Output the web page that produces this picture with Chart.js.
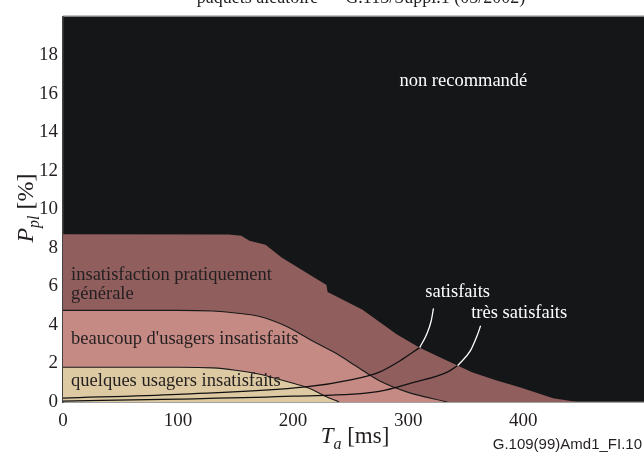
<!DOCTYPE html>
<html>
<head>
<meta charset="utf-8">
<script src="https://cdn.jsdelivr.net/npm/chart.js@4.4.0/dist/chart.umd.min.js"></script>
<style>
  html, body { margin: 0; padding: 0; background: #fff; }
  canvas { display: block; }
</style>
</head>
<body>
<canvas id="ppl-chart" width="644" height="457"></canvas>
<script>
// axes
var xMax = 505;
var yMax = 20;
var xTickValues = [0, 100, 200, 300, 400];
var yTickValues = [0, 2, 4, 6, 8, 10, 12, 14, 16, 18];

// zone boundaries, Ta [ms] -> Ppl [%]
var nonRecMs  = [0, 144, 155, 162, 176, 190, 229, 230, 260, 290, 310, 334, 356, 377, 397, 426, 447];
var nonRecPpl = [8.7, 8.69, 8.62, 8.37, 8.16, 7.5, 6.07, 5.71, 4.8, 3.52, 2.81, 2.14, 1.53, 1.12, 0.77, 0.2, 0];

var beaucoupMs  = [0, 100, 130, 150, 170, 194, 217, 238, 255, 275, 300, 334];
var beaucoupPpl = [4.75, 4.75, 4.72, 4.62, 4.45, 3.93, 3.16, 2.5, 1.85, 1.1, 0.5, 0];

var quelquesMs  = [0, 100, 130, 150, 170, 185, 200, 214, 228, 240];
var quelquesPpl = [1.8, 1.8, 1.77, 1.65, 1.45, 1.22, 0.97, 0.71, 0.3, 0];

// iso-satisfaction curves (black under the zones, white above)
var satisMs  = [0, 100, 211, 250, 275, 293, 310];
var satisPpl = [0.2, 0.4, 0.78, 1.15, 1.55, 2.14, 2.82];
var satisTopMs  = [310, 316, 320, 322];
var satisTopPpl = [2.82, 3.5, 4.2, 4.86];

var tresMs  = [0, 100, 200, 275, 304, 334, 343];
var tresPpl = [0.05, 0.15, 0.3, 0.55, 1.0, 1.55, 1.89];
var tresTopMs  = [343, 354, 360, 363];
var tresTopPpl = [1.89, 2.65, 3.45, 3.95];

var serif = "'Liberation Serif', 'Times New Roman', serif";

function toPoints(xs, ys) {
	return xs.map(function (x, i) { return { x: x, y: ys[i] }; });
}

// text drawn in data coordinates
var zoneLabels = [
	{ text: 'insatisfaction pratiquement', x: 7, y: 6.33, color: '#231f20', align: 'left' },
	{ text: 'générale', x: 7, y: 5.36, color: '#231f20', align: 'left' },
	{ text: "beaucoup d'usagers insatisfaits", x: 7, y: 3.03, color: '#231f20', align: 'left' },
	{ text: 'quelques usagers insatisfaits', x: 7, y: 0.82, color: '#231f20', align: 'left' },
	{ text: 'non recommandé', x: 348, y: 16.4, color: '#ffffff', align: 'center' },
	{ text: 'satisfaits', x: 343, y: 5.46, color: '#ffffff', align: 'center' },
	{ text: 'très satisfaits', x: 396.5, y: 4.34, color: '#ffffff', align: 'center' }
];

function drawSubscripted(ctx, main, sub, rest, x, y, size) {
	var subSize = Math.round(size * 0.68);
	ctx.font = 'italic ' + size + 'px ' + serif;
	var w1 = ctx.measureText(main).width;
	ctx.font = 'italic ' + subSize + 'px ' + serif;
	var w2 = ctx.measureText(sub).width;
	ctx.font = size + 'px ' + serif;
	var w3 = ctx.measureText(rest).width;
	var start = x - (w1 + w2 + w3) / 2;
	ctx.textAlign = 'left';
	ctx.textBaseline = 'alphabetic';
	ctx.font = 'italic ' + size + 'px ' + serif;
	ctx.fillText(main, start, y);
	ctx.font = 'italic ' + subSize + 'px ' + serif;
	ctx.fillText(sub, start + w1, y + size * 0.25);
	ctx.font = size + 'px ' + serif;
	ctx.fillText(rest, start + w1 + w2, y);
}

var decor = {
	id: 'decor',
	beforeDraw: function (chart) {
		var ctx = chart.ctx, a = chart.chartArea;
		ctx.save();
		ctx.fillStyle = '#151618';
		ctx.fillRect(a.left, a.top, a.right - a.left, a.bottom - a.top);
		ctx.fillStyle = '#9a9a9a';
		ctx.fillRect(a.left, a.top - 1, a.right - a.left, 1);
		ctx.restore();
	},
	afterDraw: function (chart) {
		var ctx = chart.ctx;
		var xs = chart.scales.x, ys = chart.scales.y;
		ctx.save();

		ctx.font = '18.5px ' + serif;
		ctx.textBaseline = 'alphabetic';
		zoneLabels.forEach(function (l) {
			ctx.fillStyle = l.color;
			ctx.textAlign = l.align;
			ctx.fillText(l.text, xs.getPixelForValue(l.x), ys.getPixelForValue(l.y));
		});

		// title cut off at the top of the figure
		ctx.fillStyle = '#231f20';
		ctx.textAlign = 'center';
		ctx.font = '18px ' + serif;
		ctx.fillText('paquets aléatoire — G.113/Suppl.1 (05/2002)', 361, 3);

		// axis titles
		ctx.fillStyle = '#231f20';
		drawSubscripted(ctx, 'T', 'a', ' [ms]', 355, 443, 23);
		ctx.save();
		ctx.translate(33, 208);
		ctx.rotate(-Math.PI / 2);
		drawSubscripted(ctx, 'P', 'pl', ' [%]', 0, 0, 24);
		ctx.restore();

		ctx.font = "15px 'Liberation Sans', Arial, sans-serif";
		ctx.textAlign = 'right';
		ctx.fillStyle = '#231f20';
		ctx.fillText('G.109(99)Amd1_FI.10', 642, 449);

		ctx.restore();
	}
};

var ctx = document.getElementById('ppl-chart').getContext('2d');
var pplChart = new Chart(ctx, {
	type: 'line',
	data: {
		datasets: [
			{ data: toPoints(satisTopMs, satisTopPpl), borderColor: '#ffffff', borderWidth: 1.3, fill: false, cubicInterpolationMode: 'monotone' },
			{ data: toPoints(satisMs, satisPpl), borderColor: '#111111', borderWidth: 1.3, fill: false, cubicInterpolationMode: 'monotone' },
			{ data: toPoints(tresTopMs, tresTopPpl), borderColor: '#ffffff', borderWidth: 1.3, fill: false, cubicInterpolationMode: 'monotone' },
			{ data: toPoints(tresMs, tresPpl), borderColor: '#111111', borderWidth: 1.3, fill: false, cubicInterpolationMode: 'monotone' },
			{ data: toPoints(quelquesMs, quelquesPpl), borderColor: '#1a1a1a', borderWidth: 1.1, backgroundColor: '#ddcaa2', fill: 'origin', cubicInterpolationMode: 'monotone' },
			{ data: toPoints(beaucoupMs, beaucoupPpl), borderColor: '#1a1a1a', borderWidth: 1.1, backgroundColor: '#c58a84', fill: 'origin', cubicInterpolationMode: 'monotone' },
			{ data: toPoints(nonRecMs, nonRecPpl), borderWidth: 0, borderColor: 'rgba(0,0,0,0)', backgroundColor: '#8f5e5d', fill: 'origin', tension: 0 }
		]
	},
	options: {
		responsive: false,
		animation: false,
		layout: { padding: { top: 9, right: 0, left: 0, bottom: 0 } },
		elements: { point: { radius: 0 } },
		plugins: {
			legend: { display: false },
			tooltip: { enabled: false }
		},
		scales: {
			x: {
				type: 'linear',
				min: 0,
				max: xMax,
				z: 1,
				grid: { display: false, drawTicks: false },
				border: { display: true, color: '#444', width: 1.5 },
				afterBuildTicks: function (scale) {
					scale.ticks = xTickValues.map(function (v) { return { value: v }; });
				},
				afterFit: function (scale) { scale.height = 55; },
				ticks: {
					color: '#231f20',
					padding: 8,
					font: { family: serif, size: 19 }
				}
			},
			y: {
				min: 0,
				max: yMax,
				z: 1,
				grid: { display: false, drawTicks: false },
				border: { display: true, color: '#444', width: 1.5 },
				afterBuildTicks: function (scale) {
					scale.ticks = yTickValues.map(function (v) { return { value: v }; });
				},
				afterFit: function (scale) { scale.width = 63; },
				ticks: {
					color: '#231f20',
					padding: 5,
					font: { family: serif, size: 19 }
				}
			}
		}
	},
	plugins: [decor]
});
</script>
</body>
</html>
